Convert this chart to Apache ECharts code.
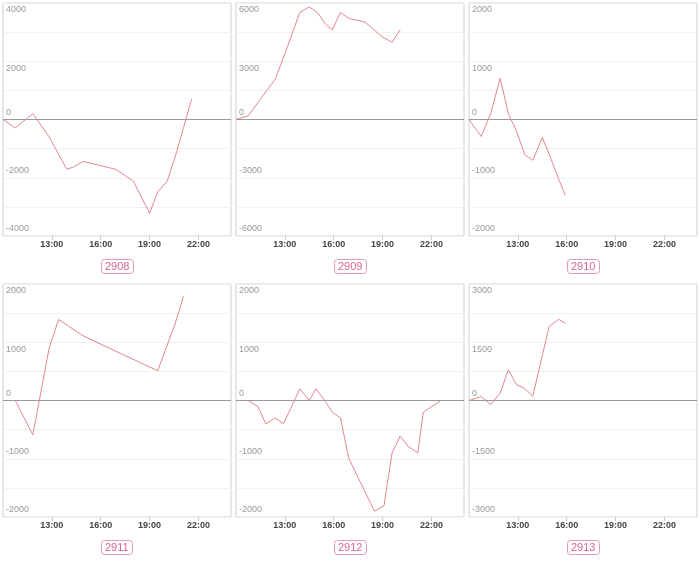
<!DOCTYPE html>
<html>
<head>
<meta charset="utf-8">
<script src="https://cdn.jsdelivr.net/npm/echarts@6/dist/echarts.min.js"></script>
<style>
html,body{margin:0;padding:0;background:#fff;}
#chart{width:700px;height:562px;}
</style>
</head>
<body>
<div id="chart"></div>
<script>
// ---- data ----
const names = ['2908', '2909', '2910', '2911', '2912', '2913'];

const times2908 = ['10:00','10:45','11:50','12:50','13:55','14:20','14:55','15:45','16:55','18:00','19:00','19:30','20:05','20:35','21:05','21:35'];
const values2908 = [0, -290, 200, -600, -1710, -1630, -1440, -1550, -1710, -2110, -3220, -2490, -2110, -1260, -280, 700];

const times2909 = ['10:00','10:45','12:25','13:10','13:55','14:30','15:00','15:30','15:55','16:25','16:55','17:55','19:00','19:35','20:05'];
const values2909 = [0, 190, 2090, 3760, 5520, 5790, 5520, 4910, 4620, 5520, 5210, 5020, 4240, 3980, 4620];

const times2910 = ['10:00','10:45','11:20','11:55','12:25','12:55','13:25','13:55','14:30','14:55','15:30','15:55'];
const values2910 = [0, -290, 100, 710, 100, -200, -600, -700, -310, -590, -1020, -1300];

const times2911 = ['10:00','10:45','11:50','12:50','13:25','14:55','19:30','20:35','21:05'];
const values2911 = [0, 0, -590, 900, 1390, 1110, 510, 1330, 1790];

const times2912 = ['10:00','10:45','11:20','11:50','12:25','12:55','13:55','14:30','14:55','15:30','15:55','16:25','16:55','18:30','19:05','19:35','20:05','20:35','21:10','21:30','22:35'];
const values2912 = [0, 0, -100, -400, -300, -400, 200, 0, 200, -20, -200, -300, -990, -1900, -1810, -900, -610, -790, -900, -200, 0];

const times2913 = ['10:00','10:45','11:20','11:55','12:25','12:55','13:25','13:55','14:55','15:30','15:55'];
const values2913 = [0, 100, -100, 190, 790, 410, 310, 110, 1900, 2090, 1990];

// y-axis ranges and labelled ticks per panel
const yMax = [4000, 6000, 2000, 2000, 2000, 3000];
const yLabelStep = [2000, 3000, 1000, 1000, 1000, 1500];
const xTickLabels = [13, 16, 19, 22];
const xMin = 10, xMax = 24;

const allTimes = [times2908, times2909, times2910, times2911, times2912, times2913];
const allValues = [values2908, values2909, values2910, values2911, values2912, values2913];

// ---- layout ----
const colLeft = [3, 236, 469];
const rowTop = [3, 284];
const gw = 228, gh = 233;

function toHour(s) { const p = s.split(':'); return +p[0] + (+p[1]) / 60; }

const grids = [], xAxes = [], yAxes = [], series = [], titles = [];
for (let i = 0; i < 6; i++) {
  const c = i % 3, r = Math.floor(i / 3);
  grids.push({ left: colLeft[c], top: rowTop[r], width: gw, height: gh, show: true, borderColor: '#cfcfcf', borderWidth: 1, backgroundColor: '#fff' });
  xAxes.push({
    type: 'value', gridIndex: i, min: xMin, max: xMax,
    axisLine: { show: false, onZero: false },
    axisTick: { show: true, length: 4, lineStyle: { color: '#ccc' }, customValues: xTickLabels },
    axisLabel: { customValues: xTickLabels, formatter: v => v + ':00', color: '#444', fontSize: 9, fontWeight: 'bold', fontFamily: 'Liberation Sans', margin: 4 },
    splitLine: { show: false }
  });
  const m = yMax[i], st = yLabelStep[i];
  const labelVals = [-m, -st, 0, st, m];
  yAxes.push({
    type: 'value', gridIndex: i, min: -m, max: m, interval: m / 4,
    axisLine: { show: false }, axisTick: { show: false },
    splitLine: { show: true, lineStyle: { color: '#f0f0f0', width: 1 } },
    axisLabel: {
      inside: true, margin: 3, customValues: labelVals, verticalAlign: 'middle',
      color: '#999', fontSize: 9, fontFamily: 'Liberation Sans',
      formatter: v => (v > 0 ? '{b|' + v + '}' : '{a|' + v + '}'),
      rich: {
        a: { padding: [0, 0, 14, 0], color: '#999', fontSize: 9, fontFamily: 'Liberation Sans' },
        b: { padding: [14, 0, 0, 0], color: '#999', fontSize: 9, fontFamily: 'Liberation Sans' }
      }
    }
  });
  const t = allTimes[i], v = allValues[i];
  series.push({
    type: 'line', xAxisIndex: i, yAxisIndex: i, showSymbol: false, symbol: 'none',
    lineStyle: { color: '#e08890', width: 1 },
    data: t.map((s, k) => [toHour(s), v[k]]),
    markLine: {
      silent: true, symbol: 'none', label: { show: false },
      lineStyle: { color: '#9a9a9a', type: 'solid', width: 1 },
      data: [{ yAxis: 0 }]
    }
  });
  titles.push({
    text: names[i], left: colLeft[c] + gw / 2 - 16, top: rowTop[r] + gh + 23,
    padding: [2, 4], borderColor: '#e39ab5', borderWidth: 1, borderRadius: 3,
    textStyle: { color: '#d9628f', fontSize: 11, fontWeight: 'normal', fontFamily: 'Liberation Sans' }
  });
}

const chart = echarts.init(document.getElementById('chart'), null, { renderer: 'canvas' });
chart.setOption({
  animation: false,
  backgroundColor: '#fff',
  title: titles,
  grid: grids,
  xAxis: xAxes,
  yAxis: yAxes,
  series: series
});
</script>
</body>
</html>
